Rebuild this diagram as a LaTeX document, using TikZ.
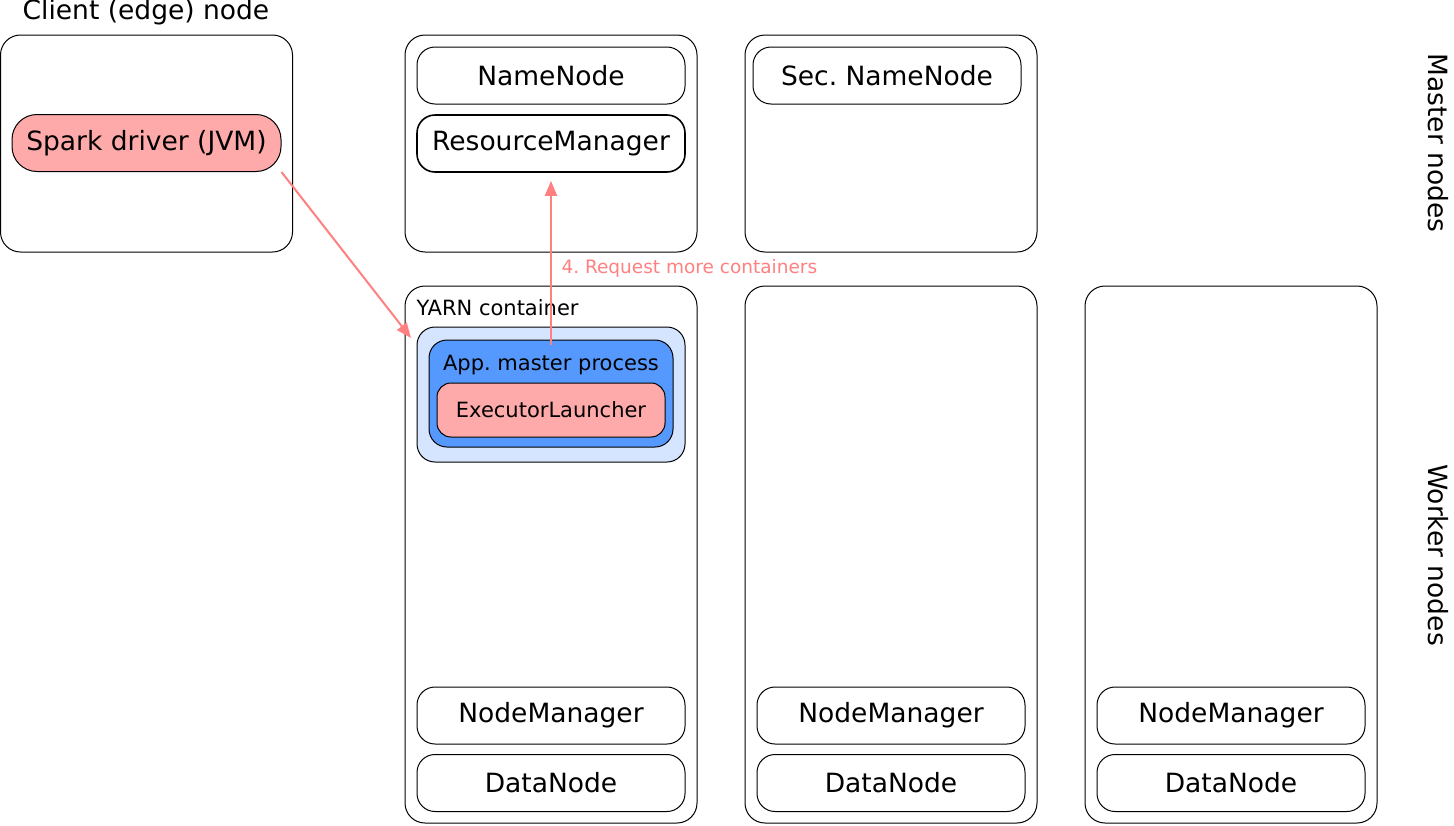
\documentclass[tikz,border=0pt]{standalone}
\usepackage{fontspec}
\setmainfont{DejaVu Sans}
\usetikzlibrary{arrows.meta}
\definecolor{sparkpink}{HTML}{FFAAAA}
\definecolor{yarnlight}{HTML}{D5E5FF}
\definecolor{amblue}{HTML}{5599FF}
\definecolor{reqred}{HTML}{FF8080}
\frenchspacing
\begin{document}
\begin{tikzpicture}[x=1pt, y=-1pt, line width=1pt,
	machine/.style={draw, rounded corners=20pt, minimum width=292pt, inner sep=0pt},
	daemon/.style={draw, rounded corners=18pt, minimum width=268pt, minimum height=57pt, inner sep=0pt, font=\fontsize{26.5}{30}\selectfont},
	req/.style={draw=reqred, line width=2pt, -{Triangle[length=15pt,width=12pt]}}]
	\useasboundingbox (0,0) rectangle (1454,825);

	% client machine
	\node[machine, minimum height=217pt] (client) at (146.5,143.5) {};
	\node[daemon, fill=sparkpink, minimum width=269pt, rounded corners=25pt] (driver) at (146.5,143) {Spark driver (JVM)};
	\node[font=\fontsize{26.5}{30}\selectfont] (clientlbl) at (146,12) {Client (edge) node};

	% master machines
	\node[machine, minimum height=217pt] (master1) at (551,143.5) {};
	\node[daemon] (nn) at (551,75.5) {NameNode};
	\node[daemon, line width=1.6pt] (rm) at (551,143.5) {ResourceManager};
	\node[machine, minimum height=217pt] (master2) at (891,143.5) {};
	\node[daemon] (snn) at (887,75.5) {Sec. NameNode};

	% worker machines
	\foreach \i/\x in {1/551, 2/891, 3/1231} {
		\node[machine, minimum height=537pt] (worker\i) at (\x,554.5) {};
		\node[daemon] (nm\i) at (\x,715.5) {NodeManager};
		\node[daemon] (dn\i) at (\x,783) {DataNode};
	}

	% yarn container on the first worker
	\node[anchor=west, inner sep=0pt, font=\fontsize{21}{24}\selectfont] (yarnlbl) at (416,308) {YARN container};
	\node[draw, fill=yarnlight, rounded corners=18pt, minimum width=268pt, minimum height=135pt] (yarn) at (551,394.5) {};
	\node[draw, fill=amblue, rounded corners=18pt, minimum width=244pt, minimum height=107pt] (am) at (551,393.5) {};
	\node[font=\fontsize{21}{24}\selectfont] (amlbl) at (551,365) {App. master process};
	\node[draw, fill=sparkpink, rounded corners=14pt, minimum width=228pt, minimum height=54pt, font=\fontsize{21}{24}\selectfont] (el) at (551,410) {ExecutorLauncher};

	% side labels
	\node[rotate=-90, font=\fontsize{26.5}{30}\selectfont] (masterlbl) at (1438,143) {Master nodes};
	\node[rotate=-90, font=\fontsize{26.5}{30}\selectfont] (workerlbl) at (1438,555) {Worker nodes};

	% requests
	\coordinate (yarnin) at (411,338);
	\draw[req] (driver.south east) -- (yarnin);
	\draw[req, shorten >=8pt, shorten <=-5pt] (am.north) -- (rm.south);
	\node[anchor=west, inner sep=0pt, text=reqred, font=\fontsize{18.5}{21}\selectfont] (reqlbl) at (561,268) {4. Request more containers};
\end{tikzpicture}
\end{document}
